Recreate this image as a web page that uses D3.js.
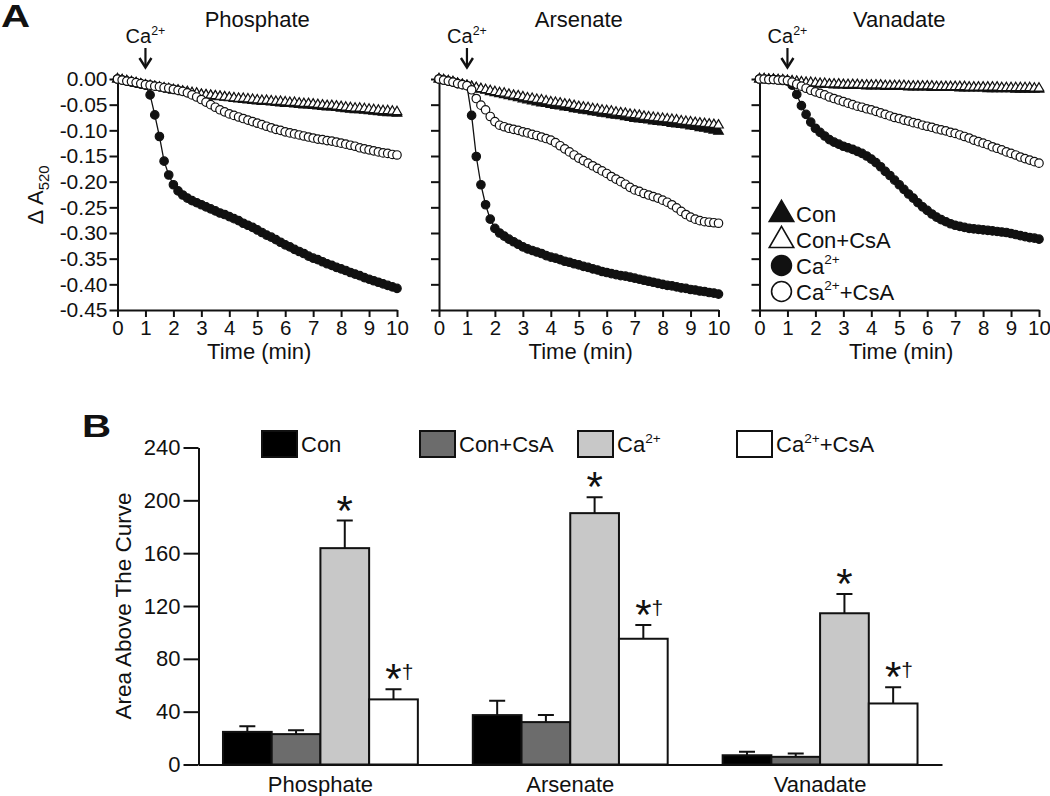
<!DOCTYPE html>
<html><head><meta charset="utf-8">
<script src="https://cdn.jsdelivr.net/npm/d3@7"></script>
<style>
body{margin:0;background:#fff}
svg text{font-family:"Liberation Sans",Arial,Helvetica,sans-serif;fill:#111}
</style>
</head><body>
<svg id="chart" width="1050" height="796"></svg>
<script>
// ---------------- DATA: Panel A (time course, seconds; ΔA520) ----------------
const timeSec = [0,10,20,30,40,50,60,70,80,90,100,110,120,130,140,150,160,170,180,190,200,210,220,230,240,250,260,270,280,290,300,310,320,330,340,350,360,370,380,390,400,410,420,430,440,450,460,470,480,490,500,510,520,530,540,550,560,570,580,590,600];
const xTickLabelsA = [0,1,2,3,4,5,6,7,8,9,10];
const yTickLabelsA = [0,-0.05,-0.10,-0.15,-0.20,-0.25,-0.30,-0.35,-0.40,-0.45];
const seriesNamesA = ["Con","Con+CsA","Ca2+","Ca2++CsA"];
const panelTitlesA = ["Phosphate","Arsenate","Vanadate"];

const phosCon = [0,-0.002,-0.004,-0.006,-0.008,-0.010,-0.012,-0.014,-0.015,-0.017,-0.018,-0.020,-0.022,-0.023,-0.025,-0.026,-0.028,-0.029,-0.031,-0.032,-0.033,-0.034,-0.035,-0.036,-0.037,-0.038,-0.039,-0.040,-0.041,-0.042,-0.043,-0.044,-0.044,-0.045,-0.046,-0.047,-0.048,-0.048,-0.049,-0.050,-0.051,-0.051,-0.052,-0.053,-0.054,-0.055,-0.055,-0.056,-0.057,-0.058,-0.059,-0.060,-0.060,-0.061,-0.062,-0.063,-0.064,-0.065,-0.066,-0.066,-0.067];
const phosConCsA = [0,-0.002,-0.004,-0.006,-0.008,-0.010,-0.012,-0.013,-0.015,-0.016,-0.018,-0.019,-0.021,-0.022,-0.024,-0.025,-0.027,-0.028,-0.030,-0.031,-0.032,-0.033,-0.034,-0.035,-0.036,-0.037,-0.038,-0.038,-0.039,-0.040,-0.041,-0.042,-0.042,-0.043,-0.044,-0.044,-0.045,-0.046,-0.046,-0.047,-0.048,-0.048,-0.049,-0.050,-0.051,-0.052,-0.052,-0.053,-0.054,-0.055,-0.056,-0.057,-0.057,-0.058,-0.059,-0.060,-0.061,-0.062,-0.062,-0.063,-0.064];
const phosCa = [0,-0.002,-0.004,-0.006,-0.008,-0.010,-0.012,-0.031,-0.070,-0.112,-0.160,-0.187,-0.206,-0.218,-0.226,-0.232,-0.237,-0.241,-0.245,-0.249,-0.253,-0.257,-0.261,-0.264,-0.268,-0.272,-0.276,-0.281,-0.285,-0.289,-0.294,-0.299,-0.304,-0.308,-0.313,-0.318,-0.323,-0.327,-0.332,-0.336,-0.340,-0.345,-0.349,-0.352,-0.356,-0.360,-0.363,-0.367,-0.370,-0.373,-0.377,-0.380,-0.383,-0.387,-0.390,-0.393,-0.396,-0.399,-0.402,-0.405,-0.408];
const phosCaCsA = [0,-0.002,-0.004,-0.005,-0.007,-0.009,-0.011,-0.012,-0.014,-0.015,-0.017,-0.018,-0.020,-0.022,-0.024,-0.027,-0.031,-0.035,-0.040,-0.045,-0.050,-0.055,-0.060,-0.064,-0.068,-0.071,-0.074,-0.077,-0.080,-0.083,-0.086,-0.089,-0.092,-0.095,-0.098,-0.100,-0.103,-0.105,-0.107,-0.109,-0.111,-0.113,-0.115,-0.117,-0.118,-0.120,-0.121,-0.123,-0.125,-0.127,-0.129,-0.131,-0.134,-0.136,-0.138,-0.140,-0.142,-0.144,-0.145,-0.147,-0.148];

const arsCon = [0,-0.002,-0.004,-0.006,-0.009,-0.011,-0.013,-0.015,-0.018,-0.020,-0.022,-0.025,-0.027,-0.029,-0.031,-0.033,-0.035,-0.037,-0.039,-0.041,-0.043,-0.045,-0.047,-0.048,-0.050,-0.052,-0.053,-0.055,-0.056,-0.058,-0.059,-0.061,-0.062,-0.064,-0.065,-0.067,-0.068,-0.070,-0.071,-0.072,-0.074,-0.075,-0.077,-0.078,-0.079,-0.080,-0.082,-0.083,-0.084,-0.085,-0.087,-0.088,-0.089,-0.090,-0.092,-0.093,-0.095,-0.096,-0.098,-0.100,-0.102];
const arsConCsA = [0,-0.002,-0.004,-0.006,-0.009,-0.011,-0.013,-0.015,-0.017,-0.019,-0.021,-0.023,-0.025,-0.027,-0.028,-0.030,-0.032,-0.033,-0.035,-0.037,-0.038,-0.040,-0.041,-0.043,-0.045,-0.046,-0.047,-0.049,-0.050,-0.052,-0.054,-0.055,-0.056,-0.058,-0.059,-0.061,-0.062,-0.063,-0.065,-0.066,-0.067,-0.069,-0.070,-0.071,-0.073,-0.074,-0.075,-0.076,-0.077,-0.078,-0.079,-0.080,-0.082,-0.083,-0.084,-0.085,-0.086,-0.087,-0.088,-0.089,-0.090];
const arsCa = [0,-0.002,-0.004,-0.006,-0.009,-0.011,-0.013,-0.071,-0.151,-0.206,-0.245,-0.273,-0.291,-0.300,-0.306,-0.312,-0.317,-0.322,-0.327,-0.331,-0.334,-0.337,-0.340,-0.344,-0.347,-0.349,-0.352,-0.355,-0.357,-0.360,-0.362,-0.365,-0.367,-0.370,-0.372,-0.375,-0.377,-0.379,-0.381,-0.383,-0.384,-0.386,-0.388,-0.390,-0.392,-0.394,-0.396,-0.398,-0.400,-0.402,-0.403,-0.405,-0.407,-0.408,-0.410,-0.411,-0.413,-0.414,-0.416,-0.417,-0.419];
const arsCaCsA = [0,-0.002,-0.004,-0.006,-0.009,-0.011,-0.013,-0.021,-0.038,-0.051,-0.060,-0.073,-0.083,-0.090,-0.093,-0.096,-0.098,-0.100,-0.103,-0.105,-0.108,-0.110,-0.113,-0.116,-0.119,-0.124,-0.130,-0.136,-0.142,-0.148,-0.154,-0.159,-0.164,-0.169,-0.174,-0.179,-0.184,-0.190,-0.195,-0.200,-0.205,-0.211,-0.216,-0.219,-0.223,-0.226,-0.229,-0.232,-0.236,-0.240,-0.245,-0.251,-0.258,-0.264,-0.269,-0.273,-0.276,-0.278,-0.279,-0.280,-0.281];

const vanCon = [0,0,-0.001,-0.001,-0.002,-0.003,-0.004,-0.005,-0.006,-0.007,-0.008,-0.009,-0.010,-0.010,-0.011,-0.011,-0.012,-0.012,-0.012,-0.013,-0.013,-0.013,-0.013,-0.014,-0.014,-0.014,-0.014,-0.015,-0.015,-0.015,-0.015,-0.015,-0.016,-0.016,-0.016,-0.016,-0.016,-0.017,-0.017,-0.017,-0.017,-0.017,-0.017,-0.018,-0.018,-0.018,-0.018,-0.018,-0.018,-0.019,-0.019,-0.019,-0.019,-0.019,-0.019,-0.020,-0.020,-0.020,-0.020,-0.020,-0.020];
const vanConCsA = [0,0,-0.001,-0.001,-0.002,-0.002,-0.003,-0.004,-0.005,-0.006,-0.007,-0.007,-0.008,-0.009,-0.009,-0.010,-0.010,-0.010,-0.011,-0.011,-0.011,-0.011,-0.012,-0.012,-0.012,-0.012,-0.012,-0.013,-0.013,-0.013,-0.013,-0.013,-0.014,-0.014,-0.014,-0.014,-0.014,-0.014,-0.015,-0.015,-0.015,-0.015,-0.015,-0.015,-0.015,-0.016,-0.016,-0.016,-0.016,-0.016,-0.016,-0.016,-0.017,-0.017,-0.017,-0.017,-0.017,-0.017,-0.017,-0.018,-0.018];
const vanCa = [0,0,-0.001,-0.001,-0.002,-0.003,-0.004,-0.012,-0.030,-0.052,-0.069,-0.084,-0.096,-0.104,-0.111,-0.118,-0.123,-0.127,-0.131,-0.134,-0.137,-0.141,-0.145,-0.150,-0.156,-0.163,-0.171,-0.180,-0.188,-0.197,-0.206,-0.215,-0.224,-0.232,-0.241,-0.249,-0.256,-0.263,-0.269,-0.274,-0.278,-0.282,-0.285,-0.287,-0.289,-0.291,-0.292,-0.293,-0.294,-0.295,-0.296,-0.297,-0.298,-0.299,-0.301,-0.303,-0.305,-0.307,-0.309,-0.310,-0.312];
const vanCaCsA = [0,0,-0.001,-0.001,-0.002,-0.002,-0.003,-0.006,-0.010,-0.014,-0.018,-0.022,-0.025,-0.028,-0.031,-0.035,-0.038,-0.041,-0.044,-0.047,-0.050,-0.053,-0.055,-0.058,-0.060,-0.063,-0.066,-0.069,-0.072,-0.075,-0.077,-0.080,-0.082,-0.085,-0.087,-0.090,-0.092,-0.094,-0.097,-0.099,-0.101,-0.104,-0.106,-0.109,-0.112,-0.115,-0.119,-0.122,-0.125,-0.128,-0.132,-0.135,-0.138,-0.142,-0.145,-0.148,-0.152,-0.155,-0.158,-0.161,-0.164];

// ---------------- DATA: Panel B (area above the curve, mean ± SEM) ----------------
const groupsB = ["Phosphate","Arsenate","Vanadate"];
const treatmentsB = ["Con","Con+CsA","Ca2+","Ca2++CsA"];
const yTickLabelsB = [0,40,80,120,160,200,240];
const conMeans = [24.7,37.4,7.0];
const conSem = [4.3,10.8,2.6];
const conCsAMeans = [23.0,32.1,5.8];
const conCsASem = [3.0,5.3,2.5];
const caMeans = [163.8,190.3,114.5];
const caSem = [20.9,12.1,14.6];
const caCsAMeans = [49.3,95.2,46.2];
const caCsASem = [7.6,10.4,12.2];
const caMarks = ["*","*","*"];
const caCsAMarks = ["*†","*†","*†"];

// ---------------- DRAWING ----------------
const svg = d3.select("#chart");
const INK = "#111";

function richParts(label){
  const i = label.indexOf("2+");
  if(i < 0) return [{t:label}];
  const parts = [{t:label.slice(0,i)},{t:"2+",sup:true}];
  const rest = label.slice(i+2);
  if(rest) parts.push({t:rest});
  return parts;
}
function addRich(textSel, parts, size){
  let cur = 0;
  parts.forEach(p=>{
    const ts = textSel.append("tspan").text(p.t);
    if(p.sup){
      const target = -0.42*size;
      ts.attr("font-size", size*0.62).attr("dy", target-cur);
      cur = target;
    } else if(p.sub){
      const target = 0.28*size;
      ts.attr("font-size", size*0.68).attr("dy", target-cur);
      cur = target;
    } else {
      if(cur !== 0) ts.attr("dy", -cur);
      cur = 0;
    }
  });
  return textSel;
}

// panel letters
svg.append("text").attr("transform","translate(1,27) scale(1.3,1)")
  .attr("font-size",31).attr("font-weight","bold").text("A");
svg.append("text").attr("transform","translate(82,437) scale(1.3,1)")
  .attr("font-size",31).attr("font-weight","bold").text("B");

// ---------- Panel A ----------
const panelDataA = [
  [phosCon, phosConCsA, phosCa, phosCaCsA],
  [arsCon, arsConCsA, arsCa, arsCaCsA],
  [vanCon, vanConCsA, vanCa, vanCaCsA]
];
const panelLeft = [117.5, 439, 759.5];
const panelW = 279.5;
const yTopA = 79, yBotA = 310;
const styleA = [
  {shape:d3.symbolTriangle, fill:INK},
  {shape:d3.symbolTriangle, fill:"#fff"},
  {shape:d3.symbolCircle, fill:INK},
  {shape:d3.symbolCircle, fill:"#fff"}
];

panelTitlesA.forEach((title, pi)=>{
  const g = svg.append("g");
  const x = d3.scaleLinear().domain([0,10]).range([panelLeft[pi], panelLeft[pi]+panelW]);
  const y = d3.scaleLinear().domain([-0.45,0]).range([yBotA, yTopA]);

  const ax = g.append("g").attr("transform",`translate(0,${yBotA})`)
    .call(d3.axisBottom(x).tickValues(xTickLabelsA).tickSize(7).tickPadding(3).tickSizeOuter(0).tickFormat(d3.format("d")));
  ax.selectAll("text").attr("font-size",20.5).style("fill",INK);
  const ay = g.append("g").attr("transform",`translate(${panelLeft[pi]},0)`)
    .call(d3.axisLeft(y).tickValues(yTickLabelsA).tickSize(8).tickPadding(2).tickSizeOuter(0)
      .tickFormat(pi===0 ? (d=> (Math.abs(d)<1e-9 ? "0.00" : d.toFixed(2))) : ""));
  ay.selectAll("text").attr("font-size",21).style("fill",INK);
  [ax,ay].forEach(a=>{a.selectAll("path,line").attr("stroke",INK).attr("stroke-width",2);});

  g.append("text").attr("x", panelLeft[pi]+panelW/2).attr("y",27)
    .attr("text-anchor","middle").attr("font-size",22).text(title);
  g.append("text").attr("x", panelLeft[pi]+panelW/2+2).attr("y",359)
    .attr("text-anchor","middle").attr("font-size",22).text("Time (min)");

  // Ca2+ addition arrow at t = 1 min
  const xa = x(1);
  addRich(g.append("text").attr("x",xa).attr("y",43).attr("text-anchor","middle").attr("font-size",20),
    richParts("Ca2+"), 20);
  g.append("path").attr("d",`M${xa},48V67`).attr("stroke",INK).attr("stroke-width",2.2).attr("fill","none");
  g.append("path").attr("d",`M${xa-6},58L${xa},67.5L${xa+6},58`).attr("stroke",INK)
    .attr("stroke-width",2.4).attr("fill","none");

  const line = d3.line().x((d,i)=>x(timeSec[i]/60)).y(d=>y(d));
  panelDataA[pi].forEach((vals, si)=>{
    const st = styleA[si];
    g.append("path").datum(vals).attr("d",line).attr("fill","none").attr("stroke",INK).attr("stroke-width",1.3);
    const sym = d3.symbol().type(st.shape).size(st.shape===d3.symbolCircle ? 56 : 40);
    g.append("g").selectAll("path").data(vals).join("path")
      .attr("transform",(d,i)=>`translate(${x(timeSec[i]/60)},${y(d)})`)
      .attr("d",sym).attr("fill",st.fill).attr("stroke",INK).attr("stroke-width",1.2);
  });
});

addRich(svg.append("text").attr("transform","translate(43,195) rotate(-90)")
  .attr("text-anchor","middle").attr("font-size",22),
  [{t:"Δ A"},{t:"520",sub:true}], 22);

// legend panel A
const legA = svg.append("g");
seriesNamesA.forEach((name, si)=>{
  const cy = 213.5 + si*26;
  const st = styleA[si];
  const size = st.shape===d3.symbolCircle ? 310 : 260;
  legA.append("path").attr("transform",`translate(781.5,${cy + (st.shape===d3.symbolCircle?0:1)})`)
    .attr("d", d3.symbol().type(st.shape).size(size)()).attr("fill",st.fill).attr("stroke",INK).attr("stroke-width",1.6);
  addRich(legA.append("text").attr("x",796).attr("y",cy+8).attr("font-size",22), richParts(name), 22);
});

// ---------- Panel B ----------
const meansB = [conMeans, conCsAMeans, caMeans, caCsAMeans];
const semB = [conSem, conCsASem, caSem, caCsASem];
const marksB = [null, null, caMarks, caCsAMarks];
const colorsB = ["#000000","#6c6c6c","#c8c8c8","#ffffff"];

const yB = d3.scaleLinear().domain([0,240]).range([764.5,447.5]);
const x0 = d3.scaleBand().domain(groupsB).range([198.5,942]).paddingInner(0.22).paddingOuter(0.098);
const x1 = d3.scaleBand().domain(treatmentsB).range([0, x0.bandwidth()]).padding(0);

const gB = svg.append("g");
const ayB = gB.append("g").attr("transform","translate(198.5,0)")
  .call(d3.axisLeft(yB).tickValues(yTickLabelsB).tickSize(15).tickPadding(3).tickSizeOuter(0));
ayB.selectAll("text").attr("font-size",22).style("fill",INK);
ayB.selectAll("path,line").attr("stroke",INK).attr("stroke-width",2);
const axB = gB.append("g").attr("transform","translate(0,764.5)")
  .call(d3.axisBottom(x0).tickSize(0).tickPadding(12).tickSizeOuter(0));
axB.selectAll("text").attr("font-size",22).attr("dy","0.71em").style("fill",INK);
axB.select(".domain").attr("stroke",INK).attr("stroke-width",2);

gB.append("text").attr("transform","translate(131,606) rotate(-90)")
  .attr("text-anchor","middle").attr("font-size",22.5).text("Area Above The Curve");

treatmentsB.forEach((tr, ti)=>{
  groupsB.forEach((grp, gi)=>{
    const m = meansB[ti][gi], s = semB[ti][gi];
    const bx = x0(grp) + x1(tr), bw = x1.bandwidth(), cx = bx + bw/2;
    gB.append("path").attr("d",`M${cx},${yB(m)}V${yB(m+s)}M${cx-8},${yB(m+s)}H${cx+8}`)
      .attr("stroke",INK).attr("stroke-width",2).attr("fill","none");
    gB.append("rect").attr("x",bx).attr("y",yB(m)).attr("width",bw).attr("height",yB(0)-yB(m))
      .attr("fill",colorsB[ti]).attr("stroke",INK).attr("stroke-width",2);
    const mk = marksB[ti] && marksB[ti][gi];
    if(mk){
      const t = gB.append("text").attr("x",cx-8.2).attr("y",yB(m+s)+4);
      t.append("tspan").attr("font-size",42).text(mk[0]);
      if(mk.length>1) t.append("tspan").attr("font-size",21).attr("dx",0).attr("dy",-14).text(mk.slice(1));
    }
  });
});

// legend panel B
const legXB = [262, 420, 578, 737];
treatmentsB.forEach((tr, ti)=>{
  gB.append("rect").attr("x",legXB[ti]).attr("y",431).attr("width",35).attr("height",26)
    .attr("fill",colorsB[ti]).attr("stroke",INK).attr("stroke-width",2);
  addRich(gB.append("text").attr("x",legXB[ti]+39).attr("y",452).attr("font-size",22), richParts(tr), 22);
});
</script>
</body></html>
